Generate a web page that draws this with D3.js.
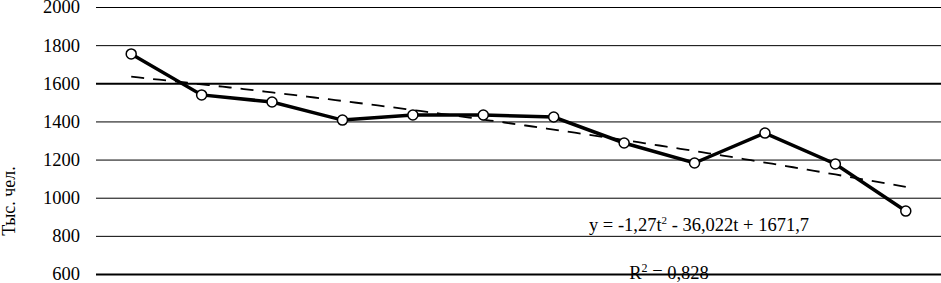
<!DOCTYPE html>
<html>
<head>
<meta charset="utf-8">
<script src="https://cdn.jsdelivr.net/npm/d3@7"></script>
<style>
	body { margin: 0; background: #fff; }
	svg text { font-family: "Liberation Serif", "Times New Roman", serif; fill: #000; }
</style>
</head>
<body>
<svg id="chart"></svg>
<script>
const DIMENSION = {
	width: 941,
	height: 283,
	margin: { left: 96, right: 0, top: 7, bottom: 9 }
};

const periods = d3.range(1, 13);
const values = [1754, 1539, 1502, 1407, 1434, 1434, 1423, 1287, 1182, 1339, 1177, 930];
const yTicks = [600, 800, 1000, 1200, 1400, 1600, 1800, 2000];
// coefficients printed on the chart: y = a*t^2 + b*t + c
const trendCoef = [-1.27, -36.022, 1671.7];

const svg = d3.select('#chart')
	.attr('width', DIMENSION.width)
	.attr('height', DIMENSION.height);

const xScale = d3.scalePoint()
	.domain(periods)
	.range([DIMENSION.margin.left, DIMENSION.width - DIMENSION.margin.right])
	.padding(0.5);

const yScale = d3.scaleLinear()
	.domain([600, 2000])
	.range([DIMENSION.height - DIMENSION.margin.bottom, DIMENSION.margin.top]);

// grid lines + labels
const yAxis = d3.axisLeft(yScale)
	.tickValues(yTicks)
	.tickSize(-(DIMENSION.width - DIMENSION.margin.left))
	.tickPadding(16)
	.tickFormat(d3.format('d'));

const g = svg.append('g')
	.attr('transform', `translate(${DIMENSION.margin.left},0)`)
	.call(yAxis);
g.select('.domain').remove();
g.selectAll('.tick line')
	.attr('stroke', '#000')
	.attr('stroke-width', d => (d === 600 || d === 1600) ? 2 : 1);
g.selectAll('.tick text')
	.attr('font-size', 18.5)
	.attr('fill', '#000');

svg.append('text')
	.attr('transform', `translate(15,201) rotate(-90)`)
	.attr('text-anchor', 'middle')
	.attr('font-size', 18)
	.text('Тыс. чел.');

// trend line
const trendLine = d3.line()
	.x(d => xScale(1) + (d - 1) * xScale.step())
	.y(d => yScale(trendCoef[0] * d * d + trendCoef[1] * d + trendCoef[2]));

svg.append('path')
	.datum(d3.range(1, 12.01, 0.1))
	.attr('fill', 'none')
	.attr('stroke', '#000')
	.attr('stroke-width', 1.8)
	.attr('stroke-dasharray', '13,9')
	.attr('d', trendLine);

// data line
const line = d3.line()
	.x((d, i) => xScale(periods[i]))
	.y(d => yScale(d));

svg.append('path')
	.datum(values)
	.attr('fill', 'none')
	.attr('stroke', '#000')
	.attr('stroke-width', 3.5)
	.attr('d', line);

svg.selectAll('circle.pt')
	.data(values)
	.enter().append('circle')
	.attr('class', 'pt')
	.attr('cx', (d, i) => xScale(periods[i]))
	.attr('cy', d => yScale(d))
	.attr('r', 5)
	.attr('fill', '#fff')
	.attr('stroke', '#000')
	.attr('stroke-width', 1.5);

// equation labels
const eq = svg.append('text')
	.attr('x', 699)
	.attr('y', 231)
	.attr('text-anchor', 'middle')
	.attr('font-size', 18.5);
eq.append('tspan').text('y = -1,27t');
eq.append('tspan').attr('dy', -7).attr('font-size', 11).text('2');
eq.append('tspan').attr('dy', 7).text(' - 36,022t + 1671,7');

const r2 = svg.append('text')
	.attr('x', 669)
	.attr('y', 279)
	.attr('text-anchor', 'middle')
	.attr('font-size', 18.5);
r2.append('tspan').text('R');
r2.append('tspan').attr('dy', -7).attr('font-size', 12).text('2');
r2.append('tspan').attr('dy', 7).text(' = 0,828');
</script>
</body>
</html>
